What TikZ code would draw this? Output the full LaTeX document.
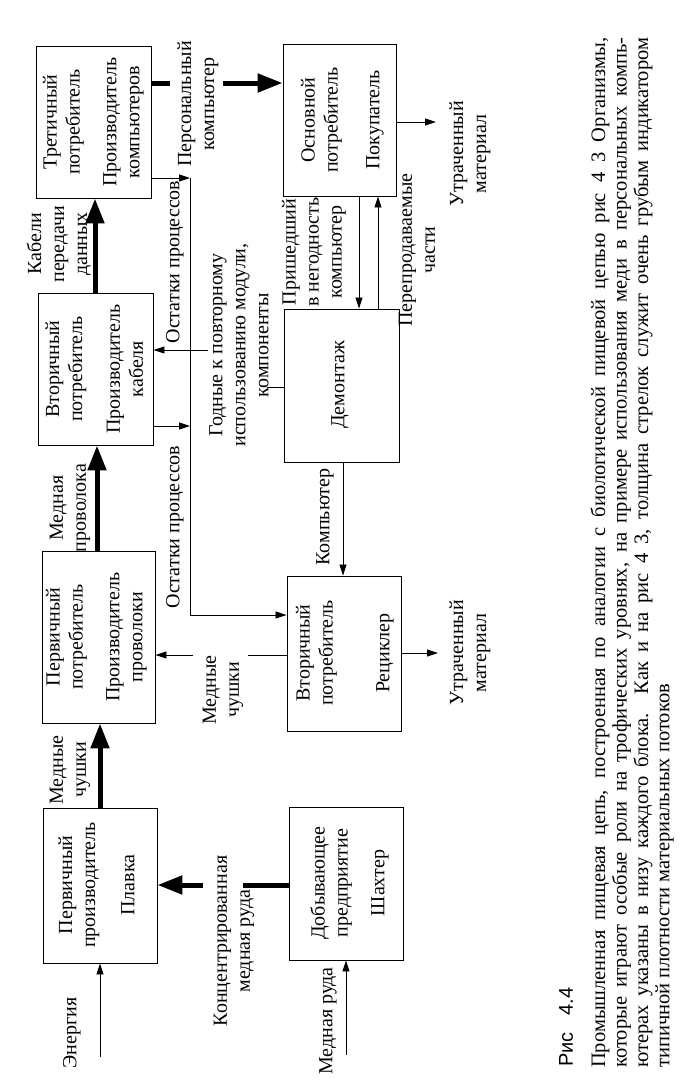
\documentclass[tikz,border=0pt]{standalone}
\usepackage{fontspec}
\setmainfont{Liberation Serif}
\newfontfamily\capsans{Liberation Sans}
\usetikzlibrary{arrows.meta}
\begin{document}
\begin{tikzpicture}[x=1pt,y=-1pt,
  box/.style={draw, line width=0.9pt, inner sep=0pt},
  txt/.style={rotate=90, font=\fontsize{20}{23}\selectfont, align=center, inner sep=0pt},
  captxt/.style={rotate=90, anchor=west, inner sep=0pt, font=\fontsize{20.5}{23}\selectfont},
  arr/.style={line width=0.8pt, -{Triangle[length=11pt,width=7pt]}},
  thinline/.style={line width=0.8pt},
  fatarr/.style={line width=5pt, -{Triangle[length=25pt,width=18pt]}},
  fatline/.style={line width=5pt}]
\useasboundingbox[fill=white] (0,0) rectangle (691,1080);

% boxes
\node[box, minimum width=114pt, minimum height=155pt] (plav) at (100,885.5) {};
\node[box, minimum width=114pt, minimum height=153pt] (shakh) at (346,883.5) {};
\node[box, minimum width=113pt, minimum height=172pt] (prov) at (98.5,637) {};
\node[box, minimum width=115pt, minimum height=152pt] (kab) at (95.5,369) {};
\node[box, minimum width=115pt, minimum height=152pt] (komp) at (93.5,122) {};
\node[box, minimum width=113pt, minimum height=152pt] (pokup) at (339.5,120) {};
\node[box, minimum width=115pt, minimum height=153pt] (demont) at (341.5,385.5) {};
\node[box, minimum width=114pt, minimum height=155pt] (recyc) at (344,653.5) {};

% box texts
\node[txt] (t1a) at (79,885) {Первичный\\производитель};
\node[txt] (t1b) at (128,885) {Плавка};
\node[txt] (t2a) at (331,883) {Добывающее\\предприятие};
\node[txt] (t2b) at (380,883) {Шахтер};
\node[txt] (t3a) at (66.5,637) {Первичный\\потребитель};
\node[txt] (t3b) at (126.5,637) {Производитель\\проволоки};
\node[txt] (t4a) at (66,369) {Вторичный\\потребитель};
\node[txt] (t4b) at (125,369) {Производитель\\кабеля};
\node[txt] (t5a) at (63.5,122) {Третичный\\потребитель};
\node[txt] (t5b) at (123.5,122) {Производитель\\компьютеров};
\node[txt] (t6a) at (321.5,120) {Основной\\потребитель};
\node[txt] (t6b) at (375,120) {Покупатель};
\node[txt] (t7) at (340,385) {Демонтаж};
\node[txt] (t8a) at (316.5,653) {Вторичный\\потребитель};
\node[txt] (t8b) at (385,653) {Рециклер};

% free ends
\coordinate (en) at (100,1057);
\coordinate (ore) at (346,1055);
\coordinate (c1) at (243,885);
\coordinate (c2) at (203,885);
\coordinate (p1) at (170,83);
\coordinate (p2) at (223,83);
\coordinate (busA) at (190,178);
\coordinate (busB) at (190,426);
\coordinate (busC) at (190,615);
\coordinate (g1) at (267,387);
\coordinate (g2) at (208,350);
\coordinate (m1) at (248,655);
\coordinate (m2) at (193,655);
\coordinate (lost1) at (436,122);
\coordinate (lost2) at (438,653);

% connectors
\draw[arr] (en) -- (plav.south);
\draw[arr] (ore) -- (shakh.south);
\draw[fatline] (shakh.west |- c1) -- (c1);
\draw[fatarr] (c2) -- (plav.east |- c2);
\draw[fatarr] (plav.north) -- (plav.north |- prov.south);
\draw[fatarr] (97,0 |- prov.north) -- (97,0 |- kab.south);
\draw[fatarr] (95,0 |- kab.north) -- (95,0 |- komp.south);
\draw[fatline] (komp.east |- p1) -- (p1);
\draw[fatarr] (p2) -- (pokup.west |- p2);
\draw[arr] (komp.east |- busA) -- (busA);
\draw[arr] (kab.east |- busB) -- (busB);
\draw[thinline] (busA) -- (busC);
\draw[arr] (busC) -- (recyc.west |- busC);
\draw[thinline] (demont.west |- g1) -- (g1);
\draw[arr] (g2) -- (kab.east |- g2);
\draw[arr] (343,0 |- demont.south) -- (343,0 |- recyc.north);
\draw[arr] (359,0 |- pokup.south) -- (359,0 |- demont.north);
\draw[arr] (378,0 |- demont.north) -- (378,0 |- pokup.south);
\draw[arr] (pokup.east |- lost1) -- (lost1);
\draw[arr] (recyc.east |- lost2) -- (lost2);
\draw[thinline] (recyc.west |- m1) -- (m1);
\draw[arr] (m2) -- (prov.east |- m2);

% connector labels
\node[txt] (l1) at (72,1033) {Энергия};
\node[txt] (l2) at (328,1021) {Медная руда};
\node[txt] (l3) at (234,941) {Концентрированная\\медная руда};
\node[txt] (l4) at (70,770) {Медные\\чушки};
\node[txt] (l5) at (70,508) {Медная\\проволока};
\node[txt] (l6) at (59,244) {Кабели\\передачи\\данных};
\node[txt] (l7) at (198,104) {Персональный\\компьютер};
\node[txt] (l8) at (175,262) {Остатки процессов};
\node[txt] (l9) at (175,527) {Остатки процессов};
\node[txt] (l10) at (239,345) {Годные к повторному\\использованию модули,\\компоненты};
\node[txt] (l11) at (325,517) {Компьютер};
\node[txt] (l12) at (314,252) {Пришедший\\в негодность\\компьютер};
\node[txt] (l13) at (417,250) {Перепродаваемые\\части};
\node[txt] (l14) at (470,154) {Утраченный\\материал};
\node[txt] (l15) at (470,653) {Утраченный\\материал};
\node[txt] (l16) at (223,690) {Медные\\чушки};

% caption
\node[captxt, font=\capsans\fontsize{20}{22}\selectfont] (cap0) at (566,1067) {Рис\hspace{17pt}4.4};
\node[captxt] (cap1) at (600,1068) {\makebox[1030pt][s]{Промышленная пищевая цепь, построенная по аналогии с биологической пищевой цепью рис 4 3 Организмы,}};
\node[captxt] (cap2) at (621.5,1068) {\makebox[1030pt][s]{которые играют особые роли на трофических уровнях, на примере использования меди в персональных компь-}};
\node[captxt] (cap3) at (643,1068) {\makebox[1030pt][s]{ютерах указаны в низу каждого блока. Как и на рис 4 3, толщина стрелок служит очень грубым индикатором}};
\node[captxt] (cap4) at (664.5,1068) {типичной плотности материальных потоков};
\end{tikzpicture}
\end{document}
